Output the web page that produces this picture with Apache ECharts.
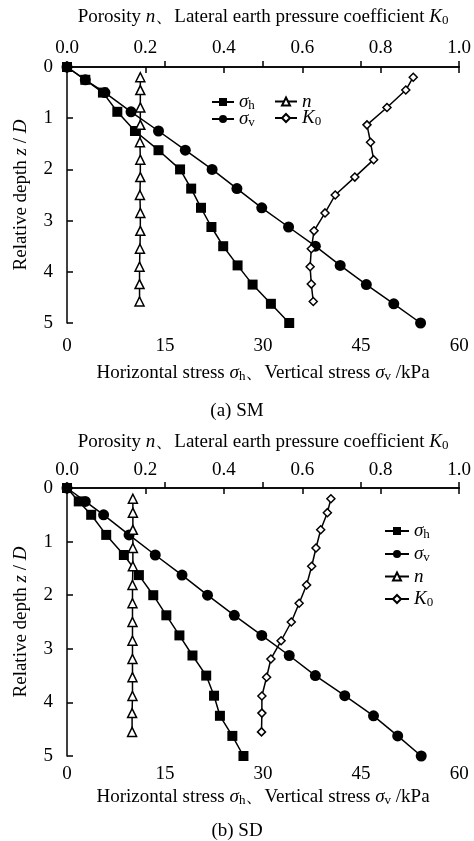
<!DOCTYPE html>
<html>
<head>
<meta charset="utf-8">
<script src="https://cdn.jsdelivr.net/npm/echarts@6/dist/echarts.min.js"></script>
<style>
  html, body { margin: 0; padding: 0; background: #fff; }
  #main { width: 474px; height: 841px; }
</style>
</head>
<body>
<div id="main"></div>
<script>
// (a) SM
var smStressDepth = [0, 0.25, 0.5, 0.875, 1.25, 1.625, 2.0, 2.375, 2.75, 3.125, 3.5, 3.875, 4.25, 4.625, 5.0];
var smSigmaH = [0, 2.8, 5.5, 7.7, 10.4, 14.0, 17.3, 19.0, 20.5, 22.1, 23.9, 26.1, 28.4, 31.2, 34.0];
var smSigmaV = [0, 2.8, 5.8, 9.8, 14.0, 18.1, 22.2, 26.0, 29.8, 33.9, 38.0, 41.8, 45.8, 50.0, 54.1];
var smRatioDepth = [0.2, 0.45, 0.79, 1.13, 1.47, 1.81, 2.15, 2.5, 2.85, 3.2, 3.55, 3.9, 4.24, 4.58];
var smPorosity = [0.187, 0.187, 0.187, 0.187, 0.186, 0.187, 0.187, 0.186, 0.187, 0.187, 0.186, 0.185, 0.185, 0.185];
var smK0 = [0.883, 0.864, 0.816, 0.765, 0.774, 0.782, 0.734, 0.684, 0.658, 0.63, 0.623, 0.62, 0.623, 0.628];

// (b) SD
var sdStressDepth = [0, 0.25, 0.5, 0.875, 1.25, 1.625, 2.0, 2.375, 2.75, 3.125, 3.5, 3.875, 4.25, 4.625, 5.0];
var sdSigmaH = [0, 1.8, 3.7, 6.0, 8.7, 11.0, 13.2, 15.2, 17.2, 19.2, 21.3, 22.5, 23.4, 25.3, 27.0];
var sdSigmaV = [0, 2.8, 5.6, 9.5, 13.5, 17.6, 21.5, 25.6, 29.8, 34.0, 38.0, 42.5, 46.9, 50.6, 54.2];
var sdRatioDepth = [0.2, 0.46, 0.78, 1.12, 1.46, 1.81, 2.15, 2.5, 2.85, 3.19, 3.53, 3.88, 4.2, 4.55];
var sdPorosity = [0.168, 0.168, 0.168, 0.168, 0.168, 0.167, 0.167, 0.167, 0.167, 0.167, 0.167, 0.167, 0.166, 0.166];
var sdK0 = [0.673, 0.664, 0.647, 0.635, 0.624, 0.611, 0.592, 0.572, 0.546, 0.52, 0.509, 0.497, 0.497, 0.496];

var FONT = 'Liberation Serif';
var SIZE = 19;
var rich = {
  t: { fontFamily: FONT, fontSize: SIZE, color: '#000', lineHeight: 20 },
  it: { fontFamily: FONT, fontSize: SIZE, fontStyle: 'italic', color: '#000', lineHeight: 20 },
  sub: { fontFamily: FONT, fontSize: 13, color: '#000', lineHeight: 14, padding: [7, 0, 0, 0] }
};

function pairs(xs, ys) {
  return xs.map(function (x, i) { return [x, ys[i]]; });
}

function legendText(name) {
  if (name === 'σh') return '{it|σ}{sub|h}';
  if (name === 'σv') return '{it|σ}{sub|v}';
  if (name === 'K0') return '{it|K}{sub|0}';
  return '{it|n}';
}

var axisLine = { show: true, lineStyle: { color: '#000', width: 1.5 } };
var axisTick = { inside: true, length: 6, lineStyle: { color: '#000', width: 1.5 } };

function stressAxis(grid, gap, margin) {
  return {
    type: 'value', gridIndex: grid, position: 'bottom',
    min: 0, max: 60, interval: 15,
    name: '{t|Horizontal stress }{it|σ}{sub|h}{t|、Vertical stress }{it|σ}{sub|v}{t| /kPa}',
    nameLocation: 'middle', nameGap: gap,
    nameTextStyle: { rich: rich },
    axisLine: axisLine, axisTick: axisTick,
    axisLabel: { color: '#000', fontFamily: FONT, fontSize: SIZE, margin: margin },
    splitLine: { show: false }
  };
}

function ratioAxis(grid, gap, margin) {
  return {
    type: 'value', gridIndex: grid, position: 'top',
    min: 0, max: 1, interval: 0.2,
    name: '{t|Porosity }{it|n}{t|、Lateral earth pressure coefficient }{it|K}{sub|0}',
    nameLocation: 'middle', nameGap: gap,
    nameTextStyle: { rich: rich },
    axisLine: axisLine, axisTick: axisTick,
    axisLabel: { color: '#000', fontFamily: FONT, fontSize: SIZE, margin: margin,
      formatter: function (v) { return v.toFixed(1); } },
    splitLine: { show: false }
  };
}

function depthAxis(grid) {
  return {
    type: 'value', gridIndex: grid, inverse: true,
    min: 0, max: 5, interval: 1,
    name: '{t|Relative depth }{it|z}{t| / }{it|D}',
    nameLocation: 'middle', nameGap: 36,
    nameTextStyle: { rich: rich },
    axisLine: axisLine, axisTick: axisTick,
    axisLabel: { color: '#000', fontFamily: FONT, fontSize: SIZE, margin: 14 },
    splitLine: { show: false }
  };
}

function lineSeries(name, xAxis, yAxis, data, symbol, size, filled) {
  return {
    name: name, type: 'line', xAxisIndex: xAxis, yAxisIndex: yAxis,
    data: data, symbol: symbol, symbolSize: size, showSymbol: true,
    lineStyle: { color: '#000', width: 1.5 },
    itemStyle: filled ? { color: '#000' } : { color: '#fff', borderColor: '#000', borderWidth: 1.5 },
    z: filled ? 3 : 4
  };
}

var legendBase = { orient: 'vertical', itemWidth: 22, itemHeight: 10, formatter: legendText, textStyle: { rich: rich } };

var myChart = echarts.init(document.getElementById('main'));
myChart.setOption({
  backgroundColor: '#fff',
  animation: false,
  title: [
    { text: '(a) SM', left: 'center', top: 397, textStyle: { fontFamily: FONT, fontSize: SIZE, fontWeight: 'normal', color: '#000' } },
    { text: '(b) SD', left: 'center', top: 817, textStyle: { fontFamily: FONT, fontSize: SIZE, fontWeight: 'normal', color: '#000' } }
  ],
  grid: [
    { left: 67, right: 12, top: 67, height: 256 },
    { left: 67, right: 12, top: 488, height: 268 }
  ],
  legend: [
    Object.assign({ data: ['σh', 'σv'], left: 206, top: 87, itemGap: -3 }, legendBase),
    Object.assign({ data: ['n', 'K0'], left: 269, top: 87, itemGap: -3 }, legendBase),
    Object.assign({ data: ['σh', 'σv', 'n', 'K0'], left: 379, top: 516, itemGap: 3 }, legendBase, { itemWidth: 24 })
  ],
  xAxis: [stressAxis(0, 40, 14), ratioAxis(0, 40, 9), stressAxis(1, 31, 9), ratioAxis(1, 36, 8)],
  yAxis: [depthAxis(0), depthAxis(1)],
  series: [
    lineSeries('σh', 0, 0, pairs(smSigmaH, smStressDepth), 'rect', 10, true),
    lineSeries('σv', 0, 0, pairs(smSigmaV, smStressDepth), 'circle', 11, true),
    lineSeries('n', 1, 0, pairs(smPorosity, smRatioDepth), 'triangle', 9, false),
    lineSeries('K0', 1, 0, pairs(smK0, smRatioDepth), 'diamond', 8, false),
    lineSeries('σh', 2, 1, pairs(sdSigmaH, sdStressDepth), 'rect', 10, true),
    lineSeries('σv', 2, 1, pairs(sdSigmaV, sdStressDepth), 'circle', 11, true),
    lineSeries('n', 3, 1, pairs(sdPorosity, sdRatioDepth), 'triangle', 9, false),
    lineSeries('K0', 3, 1, pairs(sdK0, sdRatioDepth), 'diamond', 8, false)
  ]
});
</script>
</body>
</html>
